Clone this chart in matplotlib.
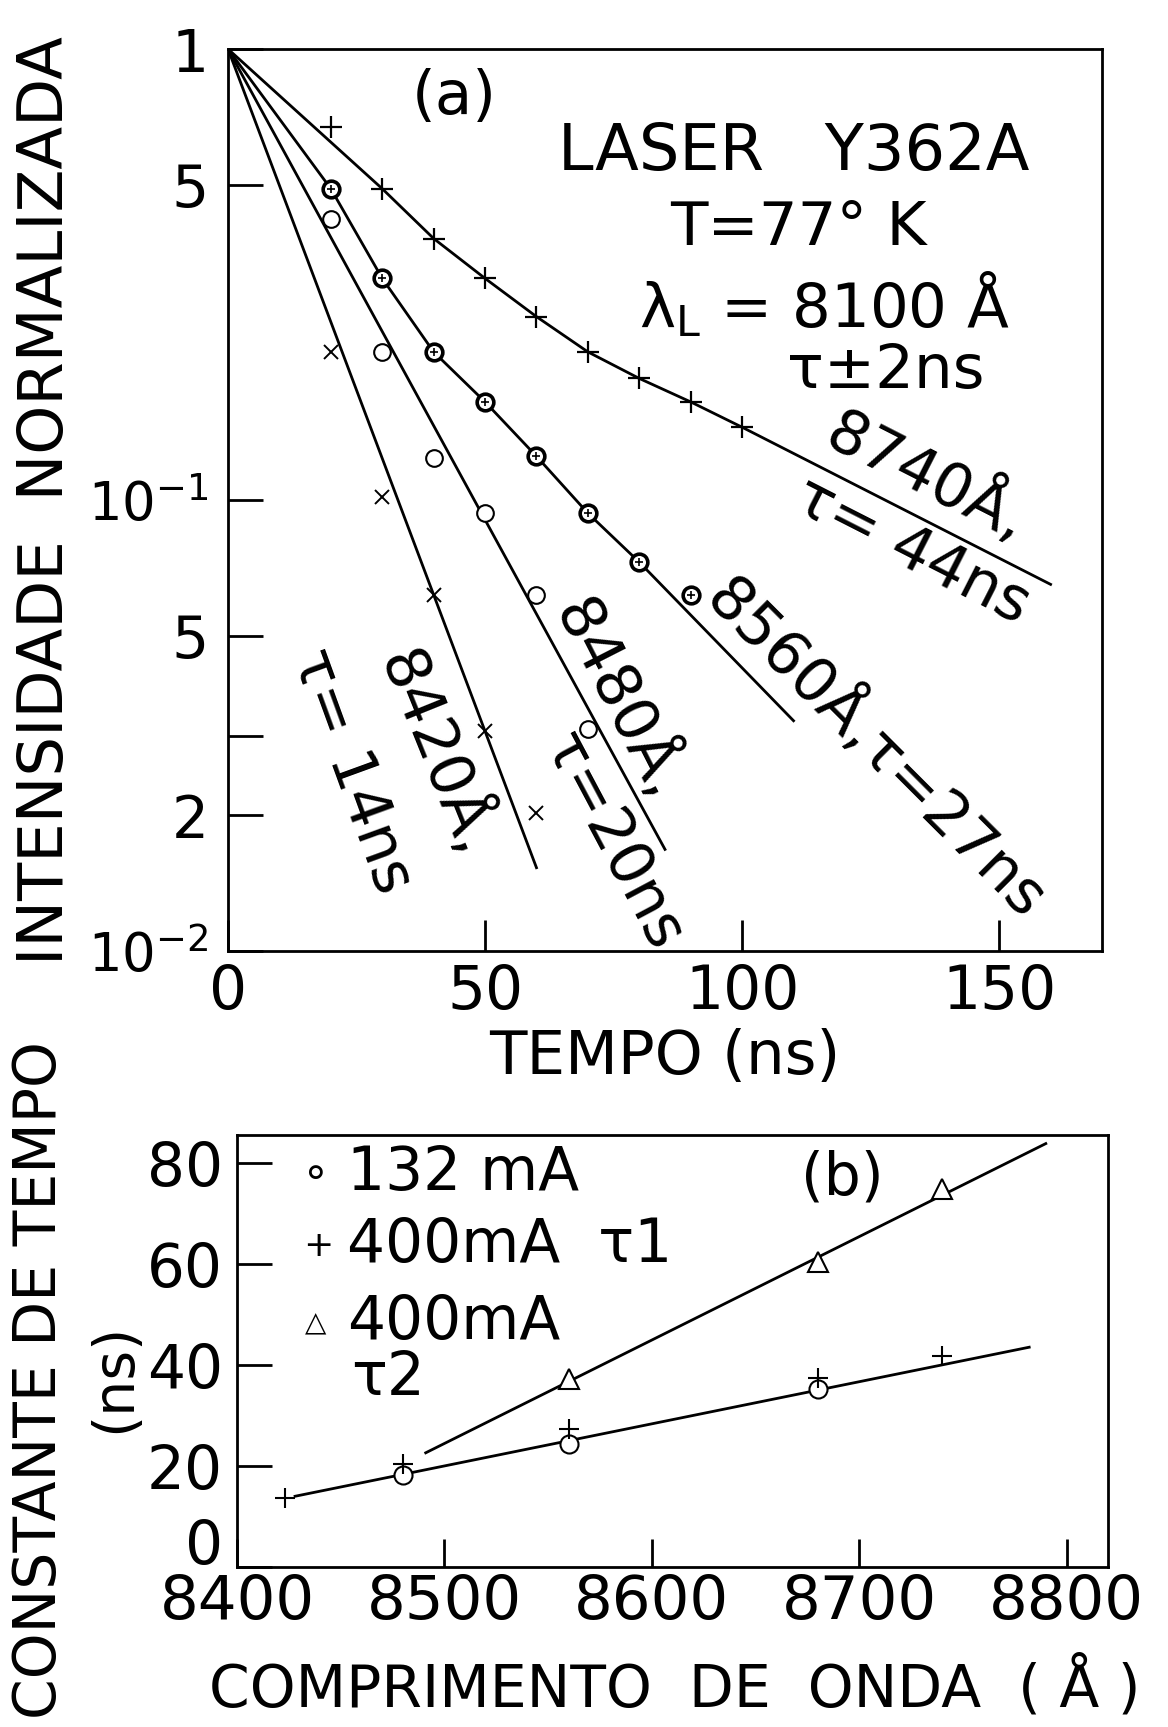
import matplotlib
matplotlib.use('Agg')
import matplotlib.pyplot as plt
from matplotlib.transforms import ScaledTranslation

plt.rcParams['font.family'] = ['DejaVu Sans']
plt.rcParams['mathtext.fontset'] = 'dejavusans'

# (a) decay curves: tempo (ns) vs normalised intensity
t_8740 = [20, 30, 40, 50, 60, 70, 80, 90, 100]
i_8740 = [0.67, 0.49, 0.38, 0.31, 0.255, 0.213, 0.186, 0.165, 0.145]
t_8560 = [20, 30, 40, 50, 60, 70, 80, 90]
i_8560 = [0.49, 0.31, 0.213, 0.165, 0.125, 0.0935, 0.0728, 0.0616]
t_8480 = [20, 30, 40, 50, 60, 70]
i_8480 = [0.42, 0.213, 0.124, 0.0935, 0.0616, 0.031]
t_8420 = [20, 30, 40, 50, 60]
i_8420 = [0.213, 0.1016, 0.0616, 0.0307, 0.0202]

# hand drawn fit lines (vertices)
fit_8740_t = [0, 30, 40, 50, 60, 70, 80, 90, 100, 160]
fit_8740_i = [1.0, 0.49, 0.38, 0.31, 0.255, 0.213, 0.186, 0.165, 0.145, 0.065]
fit_8560_t = [0, 20, 30, 40, 50, 60, 70, 80, 110]
fit_8560_i = [1.0, 0.49, 0.31, 0.213, 0.165, 0.125, 0.0935, 0.0728, 0.0324]
fit_8480_t = [0, 85]
fit_8480_i = [1.0, 0.0168]
fit_8420_t = [0, 60]
fit_8420_i = [1.0, 0.0153]

a_yticks = [0.01, 0.02, 0.03, 0.05, 0.1, 0.5, 1.0]
a_ylabels = ['$10^{-2}$', '2', '', '5', '$10^{-1}$', '5', '1']
a_xticks = [0, 50, 100, 150]

# (b) time constant vs wavelength
lam_132 = [8480, 8560, 8680]
tau_132 = [18.3, 24.3, 35.3]
lam_t1 = [8423, 8480, 8560, 8680, 8740]
tau_t1 = [13.7, 20.4, 27.3, 37.5, 41.8]
lam_t2 = [8560, 8680, 8740]
tau_t2 = [37.2, 60.3, 74.8]
fit_t1_lam = [8428, 8782]
fit_t1_tau = [14.0, 43.5]
fit_t2_lam = [8491, 8790]
fit_t2_tau = [22.6, 83.8]

b_xticks = [8400, 8500, 8600, 8700, 8800]
b_yticks = [0, 20, 40, 60, 80]

W, H = 1168, 1727
fig = plt.figure(figsize=(W / 100, H / 100), dpi=100)

def px_axes(l, t, r, b):
    return fig.add_axes([l / W, 1 - b / H, (r - l) / W, (b - t) / H])

def nudge(label, dy_px):
    label.set_transform(label.get_transform() +
                        ScaledTranslation(0, dy_px / 100, fig.dpi_scale_trans))

ax = px_axes(228, 49, 1102, 951)
ax.set_yscale('log')
ax.set_xlim(0, 170)
ax.set_ylim(0.0104, 1.0)

lw = 2.0
ax.plot(fit_8740_t, fit_8740_i, color='k', lw=lw)
ax.plot(fit_8560_t, fit_8560_i, color='k', lw=lw)
ax.plot(fit_8480_t, fit_8480_i, color='k', lw=lw)
ax.plot(fit_8420_t, fit_8420_i, color='k', lw=lw)

ax.plot(t_8740, i_8740, ls='none', marker='+', ms=16, mew=1.6, color='k')
ax.plot(t_8560, i_8560, ls='none', marker='o', ms=12, mew=2.6, mfc='white', mec='k')
ax.plot(t_8560, i_8560, ls='none', marker='+', ms=6, mew=1.2, color='k')
ax.plot(t_8480, i_8480, ls='none', marker='o', ms=12, mew=1.5, mfc='white', mec='k')
ax.plot(t_8420, i_8420, ls='none', marker='x', ms=10, mew=1.4, color='k')

ax.set_yticks(a_yticks)
ax.set_yticklabels(a_ylabels)
ax.minorticks_off()
ax.set_xticks(a_xticks)
ax.set_xticklabels([str(v) for v in a_xticks])
ax.tick_params(axis='y', direction='in', length=25, width=2, labelsize=42, pad=14)
ax.tick_params(axis='x', direction='in', length=22, width=2, labelsize=43, pad=9)
ax.get_yticklabels()[0].set_fontsize(38)
ax.get_yticklabels()[4].set_fontsize(38)
for s in ax.spines.values():
    s.set_linewidth(2)

fs = 44
ax.text(44, 0.78, '(a)', fontsize=fs, ha='center', va='center')
ax.text(110, 0.59, 'LASER   Y362A', fontsize=46, ha='center', va='center')
ax.text(111, 0.40, 'T=77° K', fontsize=fs, ha='center', va='center')
ax.text(116, 0.27, r'λ$_\mathrm{L}$ = 8100 Å', fontsize=fs, ha='center', va='center')
ax.text(128, 0.193, 'τ±2ns', fontsize=fs, ha='center', va='center')

ax.text(136, 0.112, '8740Å,', fontsize=fs, rotation=-27, ha='center', va='center',
        rotation_mode='anchor')
ax.text(133, 0.077, 'τ= 44ns', fontsize=fs, rotation=-27, ha='center', va='center',
        rotation_mode='anchor')
ax.text(126, 0.028, '8560Å,τ=27ns', fontsize=fs, rotation=-45, ha='center', va='center',
        rotation_mode='anchor')
ax.text(76, 0.036, '8480Å,', fontsize=fs, rotation=-63, ha='center', va='center',
        rotation_mode='anchor')
ax.text(74.6, 0.0174, 'τ=20ns', fontsize=fs, rotation=-62, ha='center', va='center',
        rotation_mode='anchor')
ax.text(40.5, 0.0274, '8420Å,', fontsize=fs, rotation=-68, ha='center', va='center',
        rotation_mode='anchor')
ax.text(24, 0.025, 'τ= 14ns', fontsize=fs, rotation=-70, ha='center', va='center',
        rotation_mode='anchor')

# panel b
bx = px_axes(237, 1135, 1108, 1567)
bx.set_xlim(8400, 8820)
bx.set_ylim(0, 85.5)
bx.plot(fit_t1_lam, fit_t1_tau, color='k', lw=lw)
bx.plot(fit_t2_lam, fit_t2_tau, color='k', lw=lw)
bx.plot(lam_132, tau_132, ls='none', marker='o', ms=13, mew=1.5, mfc='white', mec='k')
bx.plot(lam_t1, tau_t1, ls='none', marker='+', ms=14, mew=1.5, color='k')
bx.plot(lam_t2, tau_t2, ls='none', marker='^', ms=15, mew=1.5, mfc='white', mec='k')

bx.set_xticks(b_xticks)
bx.set_xticklabels([str(v) for v in b_xticks])
bx.set_yticks(b_yticks)
bx.set_yticklabels([str(v) for v in b_yticks])
bx.tick_params(axis='y', direction='in', length=25, width=2, labelsize=43, pad=10)
bx.tick_params(axis='x', direction='in', length=20, width=2, labelsize=44, pad=4)
nudge(bx.get_yticklabels()[0], 26)
for s in bx.spines.values():
    s.set_linewidth(2)

bx.text(8438, 77.8, '∘', fontsize=32, ha='center', va='center')
bx.text(8453, 77.8, '132 mA', fontsize=43, ha='left', va='center')
bx.text(8439, 63.6, '+', fontsize=26, ha='center', va='center')
bx.text(8453, 63.6, '400mA  τ1', fontsize=43, ha='left', va='center')
bx.text(8438, 48.3, '△', fontsize=20, ha='center', va='center')
bx.text(8453, 48.3, '400mA', fontsize=43, ha='left', va='center')
bx.text(8455, 37.4, 'τ2', fontsize=43, ha='left', va='center')
bx.text(8692, 77.0, '(b)', fontsize=42, ha='center', va='center')

# axis titles placed like the hand lettering
fig.text(46 / W, 1 - 501 / H, 'INTENSIDADE  NORMALIZADA', fontsize=45, rotation=90,
         ha='center', va='center')
fig.text(665 / W, 1 - 1057 / H, 'TEMPO (ns)', fontsize=44, ha='center', va='center')
fig.text(40 / W, 1 - 1380 / H, 'CONSTANTE DE TEMPO', fontsize=42, rotation=90,
         ha='center', va='center')
fig.text(115 / W, 1 - 1378 / H, '(ns)', fontsize=41, rotation=90, ha='center', va='center')
fig.text(675 / W, 1 - 1687 / H, 'COMPRIMENTO  DE  ONDA  ( Å )', fontsize=42,
         ha='center', va='center')

fig.savefig('out.png', dpi=100)
